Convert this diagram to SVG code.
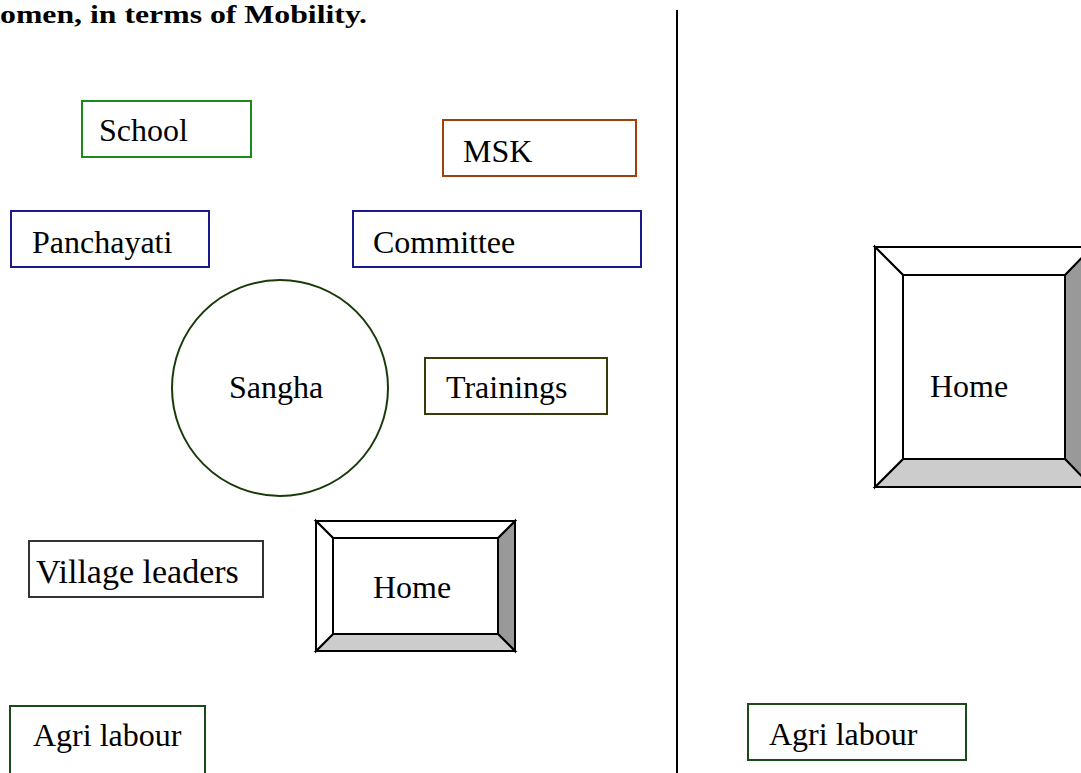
<svg xmlns="http://www.w3.org/2000/svg" width="1081" height="773" viewBox="0 0 1081 773">
<style>
.t{font-family:"Liberation Serif","Times New Roman",serif;font-size:32px;fill:#000}
.title{font-family:"Liberation Serif","Times New Roman",serif;font-size:26px;font-weight:bold;fill:#000}
.box{fill:#fff;stroke-width:2}
.bev{stroke:#000;stroke-width:2;stroke-linejoin:miter}
</style>
<rect width="1081" height="773" fill="#fff"/>
<text class="title" x="0" y="23" textLength="367" lengthAdjust="spacingAndGlyphs">omen, in terms of Mobility.</text>
<g id="divider"><line x1="677" y1="10" x2="677" y2="773" stroke="#000" stroke-width="2"/></g>
<g id="connectors"></g>
<g id="school"><rect class="box" x="82" y="101" width="169" height="56" stroke="#1a8a1a"/><text class="t" x="99" y="141">School</text></g>
<g id="msk"><rect class="box" x="443" y="120" width="193" height="56" stroke="#a0400a"/><text class="t" x="463" y="162">MSK</text></g>
<g id="panchayati"><rect class="box" x="11" y="211" width="198" height="56" stroke="#1a1a8a"/><text class="t" x="32" y="253">Panchayati</text></g>
<g id="committee"><rect class="box" x="353" y="211" width="288" height="56" stroke="#1a1a8a"/><text class="t" x="373" y="253">Committee</text></g>
<g id="sangha"><circle cx="280" cy="388" r="108" fill="#fff" stroke="#1a3a0a" stroke-width="2"/><text class="t" x="276" y="398" text-anchor="middle">Sangha</text></g>
<g id="trainings"><rect class="box" x="425" y="358" width="182" height="56" stroke="#3a3a0a"/><text class="t" x="446" y="398">Trainings</text></g>
<g id="village-leaders"><rect class="box" x="29" y="541" width="234" height="56" stroke="#333"/><text class="t" x="36" y="583" style="font-size:34px">Village leaders</text></g>
<g id="home-left">
<rect x="316" y="521" width="199" height="130" fill="#fff"/>
<polygon class="bev" points="498,538 515,521 515,651 498,634" fill="#999"/>
<polygon class="bev" points="333,634 498,634 515,651 316,651" fill="#ccc"/>
<polygon class="bev" points="316,521 515,521 498,538 333,538" fill="#fff"/>
<polygon class="bev" points="316,521 333,538 333,634 316,651" fill="#fff"/>
<rect class="bev" x="333" y="538" width="165" height="96" fill="#fff"/>
<text class="t" x="373" y="598">Home</text>
</g>
<g id="home-right">
<rect x="875" y="247" width="217" height="240" fill="#fff"/>
<polygon class="bev" points="1065,275 1092,247 1092,487 1065,459" fill="#999"/>
<polygon class="bev" points="903,459 1065,459 1092,487 875,487" fill="#ccc"/>
<polygon class="bev" points="875,247 1092,247 1065,275 903,275" fill="#fff"/>
<polygon class="bev" points="875,247 903,275 903,459 875,487" fill="#fff"/>
<rect class="bev" x="903" y="275" width="162" height="184" fill="#fff"/>
<text class="t" x="930" y="397">Home</text>
</g>
<g id="agri-left"><rect class="box" x="10" y="706" width="195" height="80" stroke="#1a4a1a"/><text class="t" x="33" y="746">Agri labour</text></g>
<g id="agri-right"><rect class="box" x="748" y="704" width="218" height="56" stroke="#1a4a1a" stroke-width="3"/><text class="t" x="769" y="745">Agri labour</text></g>
</svg>
